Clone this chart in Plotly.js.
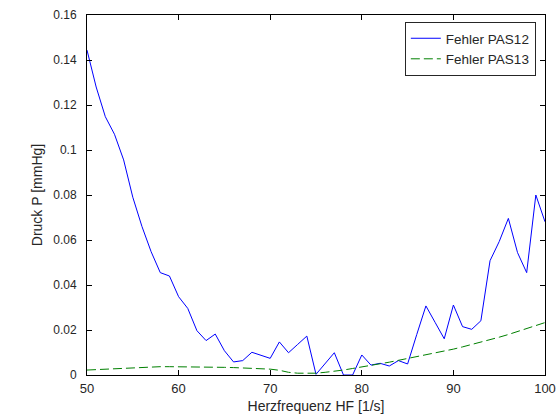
<!DOCTYPE html>
<html>
<head>
<meta charset="utf-8">
<script src="https://cdn.plot.ly/plotly-3.0.1.min.js"></script>
<style>html,body{margin:0;padding:0;background:#fff;}#chart{width:556px;height:416px;}</style>
</head>
<body>
<div id="chart"></div>
<script>
const freq = [50,51,52,53,54,55,56,57,58,59,60,61,62,63,64,65,66,67,68,69,70,71,72,73,74,75,76,77,78,79,80,81,82,83,84,85,86,87,88,89,90,91,92,93,94,95,96,97,98,99,100];
const fehlerPAS12 = [0.1444,0.128,0.1148,0.107,0.0956,0.079,0.066,0.0548,0.0455,0.044,0.0348,0.0296,0.0197,0.0153,0.0182,0.0108,0.0058,0.0064,0.0101,0.0088,0.0074,0.0147,0.0099,0.0136,0.0173,0.0003,0.005,0.0099,0,0,0.0089,0.0044,0.0052,0.004,0.0064,0.0049,0.018,0.0307,0.0234,0.0161,0.0311,0.0215,0.0203,0.0241,0.0508,0.0593,0.0696,0.0544,0.0455,0.08,0.0681];
const fehlerPAS13 = [0.0022,0.0024,0.0027,0.003,0.0032,0.0034,0.0035,0.0036,0.0037,0.0037,0.0037,0.0037,0.0037,0.0036,0.0035,0.0034,0.0033,0.0032,0.0031,0.0029,0.0026,0.0021,0.0012,0.0008,0.0007,0.0008,0.0012,0.0016,0.0022,0.0029,0.0035,0.0042,0.005,0.0057,0.0065,0.0073,0.008,0.0088,0.0096,0.0105,0.0115,0.0125,0.0135,0.0146,0.0157,0.0168,0.018,0.0193,0.0206,0.0219,0.0233];
const xTicks = [50,60,70,80,90,100];
const yTicks = [0,0.02,0.04,0.06,0.08,0.1,0.12,0.14,0.16];
const yTickLabels = ["0","0.02","0.04","0.06","0.08","0.1","0.12","0.14","0.16"];

const fam = "Liberation Sans, Arial, sans-serif";
const col = "#262626";
const font12 = {family: fam, size: 12, color: col};
const font13 = {family: fam, size: 13, color: col};
const font14 = {family: fam, size: 14, color: col};
const traces = [
  {x: freq, y: fehlerPAS12, type: "scatter", mode: "lines", name: "Fehler PAS12",
   line: {color: "#0000ff", width: 1}},
  {x: freq, y: fehlerPAS13, type: "scatter", mode: "lines", name: "Fehler PAS13",
   line: {color: "#008000", width: 1, dash: "9px,4px"}}
];
const axisCommon = {showline: true, linecolor: "#000", linewidth: 1, mirror: "ticks",
  ticks: "inside", ticklen: 5, tickcolor: "#000", showgrid: false, zeroline: false};
const layout = {
  width: 556, height: 416,
  margin: {l: 87, r: 11, t: 15, b: 41, pad: 0},
  paper_bgcolor: "#fff", plot_bgcolor: "#fff",
  font: font12,
  showlegend: true,
  legend: {x: 0.980, y: 0.9806, xanchor: "right", yanchor: "top",
    bgcolor: "#fff", bordercolor: col, borderwidth: 1,
    font: {family: fam, size: 13.5, color: col}, tracegroupgap: 0},
  xaxis: Object.assign({}, axisCommon, {range: [50, 100], tickvals: xTicks,
    tickfont: font13, ticklabelstandoff: 1,
    title: {text: "Herzfrequenz HF [1/s]", font: font14, standoff: 6}}),
  yaxis: Object.assign({}, axisCommon, {range: [0, 0.16], tickvals: yTicks, ticktext: yTickLabels,
    tickfont: font12, ticklabelstandoff: 7,
    title: {text: "Druck P [mmHg]", font: font14, standoff: 7}})
};
Plotly.newPlot("chart", traces, layout, {displayModeBar: false, staticPlot: true});
</script>
</body>
</html>
